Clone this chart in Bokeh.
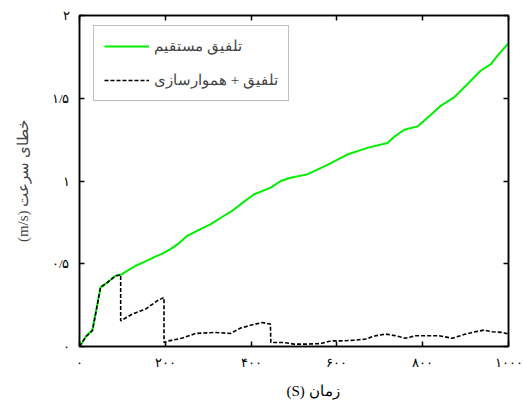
from bokeh.plotting import figure
from bokeh.models import FixedTicker, LinearAxis, Range1d, Legend, LegendItem, Title
from bokeh.embed import file_html
from bokeh.resources import INLINE

# ---- data ----
t_direct = [0, 15, 30, 39, 49, 65, 84, 96, 110, 131, 150, 173, 192, 212, 230, 251, 275, 306,
            337, 356, 376, 407, 446, 469, 492, 531, 580, 624, 671, 718, 735, 757, 788, 819,
            842, 873, 904, 935, 959, 974, 998, 1000]
e_direct = [0, 0.06, 0.10, 0.22, 0.357, 0.387, 0.427, 0.433, 0.455, 0.488, 0.51, 0.538, 0.56,
            0.588, 0.62, 0.669, 0.70, 0.74, 0.79, 0.82, 0.86, 0.92, 0.96, 1.0, 1.02, 1.04, 1.10,
            1.16, 1.20, 1.23, 1.27, 1.31, 1.33, 1.40, 1.454, 1.505, 1.585, 1.666, 1.706, 1.756,
            1.827, 1.83]

t_smooth = [0, 15, 30, 39, 49, 65, 84, 96, 96, 123, 154, 181, 197, 197, 208, 240, 271, 317,
            352, 375, 403, 426, 445, 446, 477, 500, 531, 562, 586, 609, 640, 667, 690, 714,
            737, 760, 784, 815, 838, 869, 900, 924, 943, 963, 986, 1000]
e_smooth = [0, 0.06, 0.095, 0.216, 0.357, 0.387, 0.427, 0.433, 0.155, 0.196, 0.226, 0.276,
            0.296, 0.024, 0.034, 0.051, 0.079, 0.085, 0.079, 0.111, 0.131, 0.145, 0.135, 0.024,
            0.024, 0.0145, 0.0145, 0.018, 0.034, 0.034, 0.038, 0.045, 0.065, 0.075, 0.065, 0.05,
            0.065, 0.065, 0.065, 0.05, 0.075, 0.09, 0.099, 0.089, 0.085, 0.075]

x_ticks = [0, 200, 400, 600, 800, 1000]
x_tick_labels = ["۰", "۲۰۰", "۴۰۰", "۶۰۰", "۸۰۰", "۱۰۰۰"]
y_ticks = [0, 0.5, 1, 1.5, 2]
y_tick_labels = ["۰", "۰/۵", "۱", "۱/۵", "۲"]

label_direct = "تلفیق مستقیم"
label_smooth = "تلفیق + هموارسازی"
x_title = "زمان (S)"
y_title = "خطای سرعت (m/s)"

RLE, PDF = "\u202B", "\u202C"   # right-to-left embedding for mixed-direction titles
FONT = "Liberation Serif"

p = figure(width=523, height=408, output_backend="svg", toolbar_location=None,
           x_range=Range1d(0, 1000), y_range=Range1d(0, 2),
           min_border_left=79, min_border_right=15, min_border_top=15, min_border_bottom=62)
p.background_fill_color = "white"
p.border_fill_color = "white"
p.grid.visible = False
p.outline_line_color = "black"
p.outline_line_width = 1.5

r1 = p.line(t_direct, e_direct, line_color="#00ee00", line_width=2)
r2 = p.line(t_smooth, e_smooth, line_color="black", line_width=1.6, line_dash="4 2")

def style(ax, labels=True):
    ax.axis_line_color = "black"
    ax.axis_line_width = 1.5
    ax.major_tick_in = 5
    ax.major_tick_out = 0
    ax.major_tick_line_width = 1.5
    ax.minor_tick_line_color = None
    ax.major_label_text_font = FONT
    ax.major_label_text_font_size = "13px"
    ax.major_label_text_color = "black"
    if not labels:
        ax.major_label_text_font_size = "0px"
        ax.major_label_text_color = None
        ax.major_label_standoff = 0

xa = p.xaxis[0]
xa.ticker = FixedTicker(ticks=x_ticks)
xa.major_label_overrides = {k: v for k, v in zip(x_ticks, x_tick_labels)}
style(xa)
xa.major_label_standoff = 8

ya = p.yaxis[0]
ya.ticker = FixedTicker(ticks=y_ticks)
ya.major_label_overrides = {k: v for k, v in zip(y_ticks, y_tick_labels)}
style(ya)
ya.major_label_standoff = 10
ya.axis_label = RLE + y_title + PDF
ya.axis_label_text_font = FONT
ya.axis_label_text_font_style = "normal"
ya.axis_label_text_font_size = "15px"
ya.axis_label_standoff = 18

top = LinearAxis(ticker=FixedTicker(ticks=x_ticks))
style(top, labels=False)
p.add_layout(top, "above")
right = LinearAxis(ticker=FixedTicker(ticks=y_ticks))
style(right, labels=False)
p.add_layout(right, "right")

xt = Title(text=RLE + x_title + PDF, align="left", offset=207, standoff=16,
           text_font=FONT, text_font_style="normal", text_font_size="15px",
           text_color="black")
p.add_layout(xt, "below")

legend = Legend(items=[LegendItem(label=label_direct, renderers=[r1]),
                       LegendItem(label=label_smooth, renderers=[r2])],
                location=(14, 245))
legend.border_line_color = "#808080"
legend.border_line_width = 1.2
legend.background_fill_color = "white"
legend.background_fill_alpha = 1
legend.label_text_font = FONT
legend.label_text_font_size = "15px"
legend.glyph_width = 45
legend.glyph_height = 20
legend.label_height = 20
legend.label_standoff = 5
legend.spacing = 14
legend.padding = 10
legend.margin = 0
p.add_layout(legend, "center")

open("out.html", "w").write(file_html(p, INLINE))
